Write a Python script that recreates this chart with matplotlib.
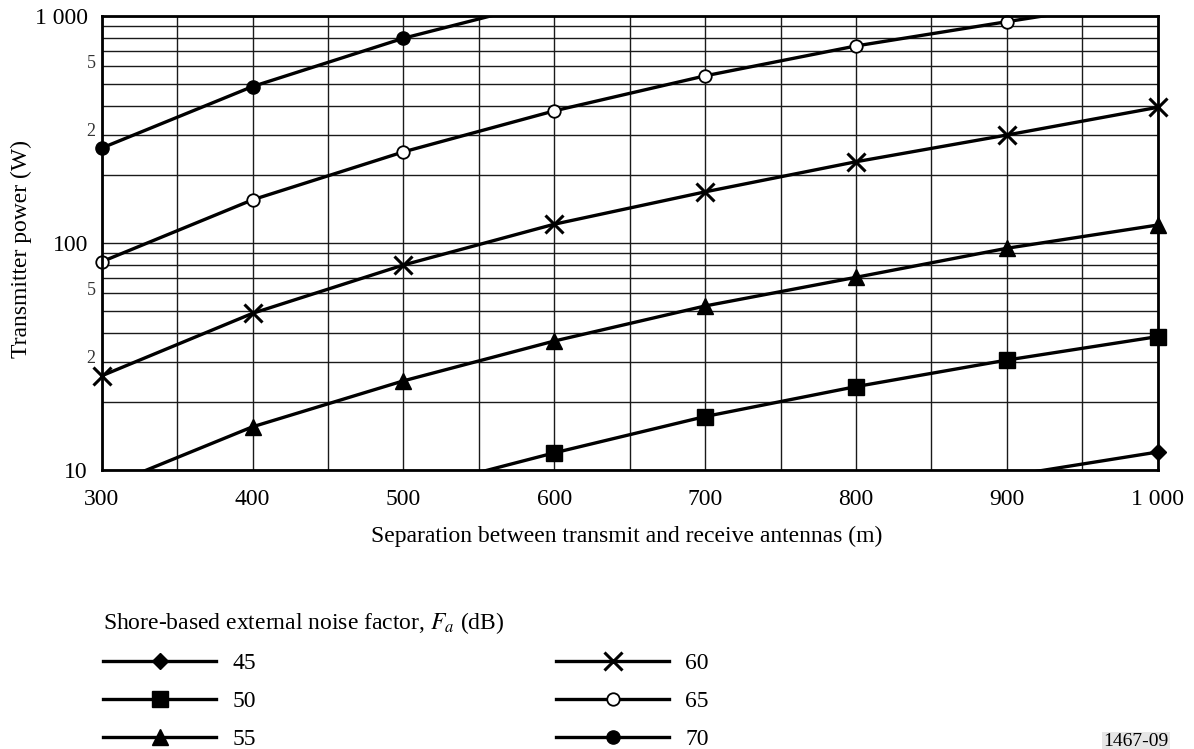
import numpy as np
import matplotlib.pyplot as plt
from matplotlib.lines import Line2D
from matplotlib.ticker import FixedLocator, FixedFormatter, LogLocator, NullFormatter
from matplotlib.transforms import ScaledTranslation

plt.rcParams['font.family'] = ['Liberation Serif', 'DejaVu Serif']
plt.rcParams['mathtext.fontset'] = 'stix'

distance = [300, 400, 500, 600, 700, 800, 900, 1000]

# transmitter power (W) per shore-based noise factor Fa (dB);
# values past the 10 W / 1000 W edges only carry the curve to the frame
p_fa45 = [np.nan, np.nan, np.nan, np.nan, np.nan, np.nan, 9.4, 12.0]
p_fa50 = [np.nan, np.nan, 8.0, 11.9, 17.2, 23.3, 30.5, 38.7]
p_fa55 = [8.3, 15.5, 24.7, 37.0, 52.8, 70.6, 94.8, 120]
p_fa60 = [26.0, 49.0, 80.0, 121, 168, 228, 299, 396]
p_fa65 = [82.7, 155, 252, 382, 545, 738, 944, 1200]
p_fa70 = [262, 489, 798, 1180, np.nan, np.nan, np.nan, np.nan]

fa_labels = ['45', '50', '55', '60', '65', '70']
x_ticks = [300, 400, 500, 600, 700, 800, 900, 1000]
x_ticklabels = ['300', '400', '500', '600', '700', '800', '900', '1 000']
y_ticks = [10, 100, 1000]
y_ticklabels = ['10', '100', '1 000']

styles = [
    dict(marker='D', ms=8, mfc='k', mec='k'),
    dict(marker='s', ms=11, mfc='k', mec='k'),
    dict(marker='^', ms=11, mfc='k', mec='k'),
    dict(marker='x', ms=13, mec='k', mew=2.2),
    dict(marker='o', ms=9, mfc='white', mec='k', mew=1.3),
    dict(marker='o', ms=9.5, mfc='k', mec='k'),
]
powers = [p_fa45, p_fa50, p_fa55, p_fa60, p_fa65, p_fa70]

fig = plt.figure(figsize=(11.94, 7.49), dpi=100)
ax = fig.add_axes([101.7 / 1194, 1 - 470 / 749, 1056 / 1194, 454 / 749])
ax.set_yscale('log')

x = np.array(distance, dtype=float)
for p, st in zip(powers, styles):
    p = np.array(p, dtype=float)
    ax.plot(x, p, color='k', lw=2.4, solid_capstyle='butt', zorder=3)
    inside = (p >= 10) & (p <= 1000)
    ax.plot(x[inside], p[inside], ls='none', clip_on=False, zorder=4, **st)

ax.set_xlim(300, 1000)
ax.set_ylim(10, 1000)

ax.xaxis.set_major_locator(FixedLocator(x_ticks))
ax.xaxis.set_major_formatter(FixedFormatter(x_ticklabels))
ax.xaxis.set_minor_locator(FixedLocator(np.arange(350, 1000, 100)))
ax.yaxis.set_major_locator(FixedLocator(y_ticks))
ax.yaxis.set_major_formatter(FixedFormatter(y_ticklabels))
ax.yaxis.set_minor_locator(LogLocator(base=10, subs=np.arange(2, 10)))
ax.yaxis.set_minor_formatter(NullFormatter())

ax.grid(True, which='both', color='#1a1a1a', lw=1.0, zorder=1)
ax.tick_params(which='both', length=0, labelsize=17, colors='k')
ax.tick_params(axis='x', pad=14)
ax.tick_params(axis='y', pad=10)
for s in ax.spines.values():
    s.set_linewidth(2.0)
    s.set_zorder(5)

# small 5 / 2 marks between the decades
shift = ScaledTranslation(-6 / 100, 3 / 100, fig.dpi_scale_trans)
for yv, t in [(600, '5'), (300, '2'), (60, '5'), (30, '2')]:
    ax.text(0, yv, t, transform=ax.get_yaxis_transform() + shift,
            ha='right', va='center', fontsize=13, color='#333333')

ax.set_xlabel('Separation between transmit and receive antennas (m)', fontsize=17)
ax.xaxis.set_label_coords(0.497, -0.123)
ax.set_ylabel('Transmitter power (W)', fontsize=17)
ax.yaxis.set_label_coords(-0.066, 0.487)

handles = [Line2D([], [], color='k', lw=2.4, **st) for st in styles]
fig.legend(handles, fa_labels, loc='upper left',
           bbox_to_anchor=(103 / 1194, 1 - 610 / 749),
           ncol=2, frameon=False, fontsize=17,
           title='Shore-based external noise factor, $F_a$ (dB)',
           title_fontsize=17, alignment='left',
           handlelength=4.8, handletextpad=0.68, columnspacing=12.7,
           labelspacing=0.7, borderpad=0, borderaxespad=0)

fig.text(1103 / 1194, 1 - 733 / 749, '1467-09', ha='left', va='top', fontsize=14,
         bbox=dict(facecolor='#e6e6e6', edgecolor='none', pad=1))

fig.savefig('out.png', dpi=100)
